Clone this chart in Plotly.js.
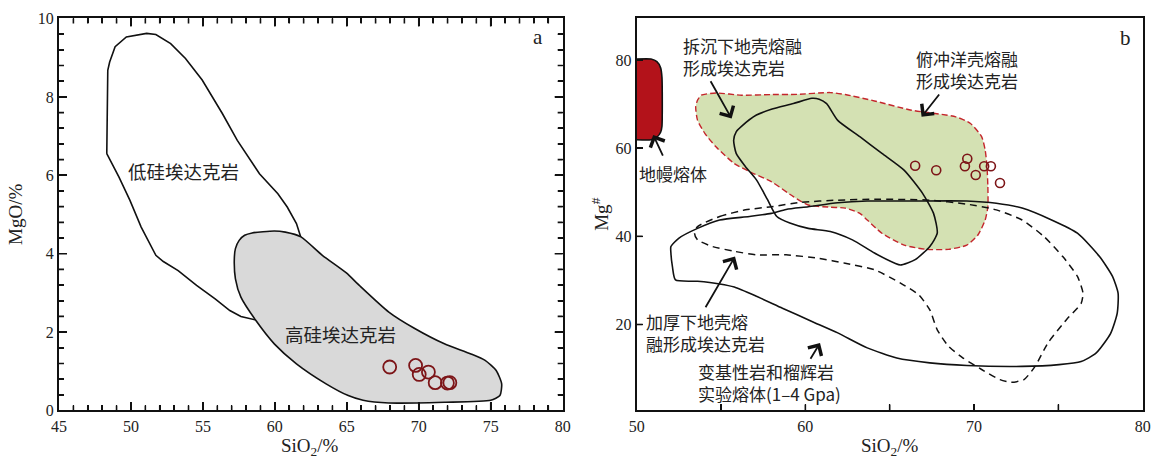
<!DOCTYPE html>
<html>
<head>
<meta charset="utf-8">
<script src="https://cdn.plot.ly/plotly-3.0.1.min.js"></script>
<style>html,body{margin:0;padding:0;background:#fff;}#chart{width:1158px;height:459px;}</style>
</head>
<body>
<div id="chart"></div>
<script>
// ---------- Panel a: SiO2 vs MgO ----------
var lowSiX = [48.32,48.39,48.52,48.9,49.68,51.09,51.73,52.76,53.79,54.95,56.36,57.39,58.93,60.21,60.86,61.5,61.81,61.2,60.2,58.67,57.64,56.87,55.85,54.56,53.28,52.25,51.73,50.71,49.93,49.16,48.32];
var lowSiY = [6.55,8.68,8.89,9.28,9.53,9.62,9.59,9.36,8.98,8.43,7.57,6.89,6.04,5.53,5.19,4.77,4.41,3.6,2.9,2.31,2.40,2.55,2.85,3.19,3.57,3.80,3.96,4.68,5.36,5.96,6.55];
var highSiX = [57.9,58.42,59.96,60.73,61.81,63.3,64.97,65.87,67.92,69.72,71.78,73.58,74.61,75.38,75.76,75.64,75.0,71.78,67.92,66.13,65.1,63.56,61.5,59.96,58.67,57.64,57.26,57.18,57.26,57.52,57.9];
var highSiY = [4.47,4.53,4.58,4.55,4.43,3.96,3.51,3.19,2.51,2.09,1.70,1.45,1.28,1.02,0.68,0.38,0.26,0.21,0.19,0.26,0.38,0.68,1.19,1.70,2.30,2.89,3.36,3.83,4.13,4.34,4.47];
var sampleSiO2a = [67.98,69.78,70.03,70.67,71.14,71.99,72.16];
var sampleMgO = [1.11,1.15,0.92,0.98,0.71,0.70,0.71];

// ---------- Panel b: SiO2 vs Mg# ----------
var mantleX = [50,50.85,51.2,51.42,51.5,51.5,51.42,51.2,50.85,50];
var mantleY = [80.2,80.2,79.6,78.2,76,65,63.6,62.5,61.9,61.9];
var oceanicX = [53.61,53.83,54.70,56.23,57.98,59.51,61.48,62.36,64.1,66.29,68.92,69.79,70.45,70.66,70.77,70.82,70.82,70.66,70.23,69.57,68.48,67.17,65.86,64.54,63.67,63.23,62.36,61.48,60.17,59.29,57.98,56.89,55.79,54.70,54.05,53.61,53.5,53.61];
var oceanicY = [70.88,72.0,72.5,72.0,72.15,72.2,72.6,72.15,70.7,68.6,67.1,65.6,62.6,59.6,55.8,51.3,46.7,43.7,40.3,38.0,37.05,37.05,38.0,40.7,43.7,45.2,46.4,46.6,47.1,49.0,52.4,54.3,56.5,60.3,63.3,66.3,69.4,70.88];
var delamX = [56.23,57.1,57.98,59.29,60.39,60.82,61.26,61.92,63.23,64.54,65.85,66.95,67.6,67.82,67.38,66.51,65.64,65.31,64.1,62.79,61.48,60.17,59.08,58.31,57.76,57.1,56.45,55.9,55.75,55.9,56.23];
var delamY = [65.0,67.5,68.8,70.1,71.3,71.1,70.1,66.3,62.6,58.8,55.0,49.75,45.2,40.7,37.7,34.7,33.5,33.9,36.2,39.2,41.1,41.8,43.0,44.5,48.3,52.8,55.8,58.8,61.8,63.7,65.0];
var thickX = [53.61,54.92,56.45,57.98,59.73,61.92,64.1,67.38,69.57,71.32,72.85,74.16,75.26,76.13,76.46,76.35,75.48,74.38,73.62,72.96,72.2,71.54,70.45,69.35,68.48,67.82,67.38,66.73,65.64,64.1,62.36,60.82,58.86,57.1,55.79,54.48,53.61,53.43,53.61];
var thickY = [42.2,44.5,46.0,46.7,47.7,48.2,48.4,48.2,47.3,46.0,43.7,39.9,35.4,30.9,27.1,24.8,21.1,15.8,10.5,7.5,6.9,7.5,9.8,12.4,15.1,18.8,23.3,26.7,29.4,32.4,33.9,35.0,35.8,35.8,36.6,37.7,39.2,40.7,42.2];
var expX = [52.03,52.51,53.61,54.92,56.67,57.98,58.86,60.17,61.92,63.67,66.29,69.57,71.32,72.85,74.6,76.13,77.44,78.21,78.54,78.49,78.1,77.23,76.35,75.04,72.85,69.57,67.38,65.42,63.67,61.92,60.39,58.64,57.1,55.79,54.92,53.61,52.3,52.12,52.03,52.03];
var expY = [37.7,39.6,41.8,43.7,44.5,45.2,46.1,46.7,47.6,48.0,48.0,48.0,47.5,46.4,43.7,40.7,35.4,30.9,27.1,22.6,18.0,13.5,11.6,10.9,10.5,10.7,11.3,12.4,14.7,18.1,20.7,23.7,26.4,28.5,29.2,29.8,30.1,33.1,36.2,37.7];
var sampleSiO2b = [66.51,67.76,69.46,69.6,70.1,70.6,71.0,71.54];
var sampleMgNo = [56.0,55.0,55.9,57.6,53.9,55.9,55.9,52.1];

var serif = 'Liberation Serif, Noto Sans CJK SC, serif';
var cjk = 'Noto Sans CJK SC, Liberation Serif, sans-serif';
var circleColor = '#7d1518';

var traces = [
  {x: lowSiX, y: lowSiY, xaxis:'x', yaxis:'y', mode:'lines', fill:'toself', fillcolor:'#ffffff',
   line:{color:'#111', width:1.6}, hoverinfo:'skip'},
  {x: highSiX, y: highSiY, xaxis:'x', yaxis:'y', mode:'lines', fill:'toself', fillcolor:'#d9d9d9',
   line:{color:'#111', width:1.6, shape:'spline', smoothing:0.6}, hoverinfo:'skip'},
  {x: sampleSiO2a, y: sampleMgO, xaxis:'x', yaxis:'y', mode:'markers',
   marker:{symbol:'circle-open', size:13, color:circleColor, line:{width:1.8, color:circleColor}}},

  {x: oceanicX, y: oceanicY, xaxis:'x2', yaxis:'y2', mode:'lines', fill:'toself', fillcolor:'#d4e1b3',
   line:{color:'#c4262c', width:1.4, dash:'6px,3px', shape:'spline', smoothing:0.6}, hoverinfo:'skip'},
  {x: mantleX, y: mantleY, xaxis:'x2', yaxis:'y2', mode:'lines', fill:'toself', fillcolor:'#b3121a',
   line:{color:'#111', width:1.6, shape:'spline', smoothing:0.5}, hoverinfo:'skip'},
  {x: delamX, y: delamY, xaxis:'x2', yaxis:'y2', mode:'lines',
   line:{color:'#111', width:1.6, shape:'spline', smoothing:0.6}, hoverinfo:'skip'},
  {x: thickX, y: thickY, xaxis:'x2', yaxis:'y2', mode:'lines',
   line:{color:'#111', width:1.5, dash:'7px,5px', shape:'spline', smoothing:0.6}, hoverinfo:'skip'},
  {x: expX, y: expY, xaxis:'x2', yaxis:'y2', mode:'lines',
   line:{color:'#111', width:1.6, shape:'spline', smoothing:0.6}, hoverinfo:'skip'},
  {x: sampleSiO2b, y: sampleMgNo, xaxis:'x2', yaxis:'y2', mode:'markers',
   marker:{symbol:'circle-open', size:9, color:circleColor, line:{width:1.6, color:circleColor}}}
];

var axisCommon = {
  showgrid:false, zeroline:false, showline:true, linecolor:'#111', linewidth:2,
  ticks:'inside', tickcolor:'#111', tickwidth:1.6,
  tickfont:{family:serif, size:16, color:'#222'}
};

function ann(x, y, text, xref, yref, opts) {
  var a = {x:x, y:y, xref:xref, yref:yref, text:text, showarrow:false,
    font:{family:cjk, size:17, color:'#222'}, align:'left', xanchor:'left', yanchor:'middle'};
  for (var k in opts) a[k] = opts[k];
  return a;
}
function arrow(tx, ty, hx, hy) {
  return {x:hx, y:hy, ax:tx, ay:ty, xref:'x2', yref:'y2', axref:'x2', ayref:'y2', text:'',
    width:1, height:1, borderpad:0, font:{size:1},
    showarrow:true, arrowhead:4, arrowsize:1.7, arrowwidth:1.8, arrowcolor:'#111'};
}
var titleFont = {family:serif, size:19, color:'#222'};

var layout = {
  width:1158, height:459, margin:{l:0, r:0, t:0, b:0},
  paper_bgcolor:'#fff', plot_bgcolor:'#fff', showlegend:false,
  xaxis: Object.assign({}, axisCommon, {domain:[0.05095,0.4859], range:[45,80], dtick:5,
     ticklen:8, mirror:'allticks', minor:{dtick:1, ticklen:5, ticks:'inside'}, anchor:'y'}),
  yaxis: Object.assign({}, axisCommon, {domain:[0.1057,0.9597], range:[0,10], dtick:2,
     ticklen:8, mirror:'allticks', minor:{dtick:0.4, ticklen:5, ticks:'inside'}, anchor:'x'}),
  xaxis2: Object.assign({}, axisCommon, {domain:[0.5498,0.98679], range:[50,80], dtick:10,
     ticklen:6, mirror:true, minor:{dtick:5, ticklen:6, ticks:'inside'}, anchor:'y2'}),
  yaxis2: Object.assign({}, axisCommon, {domain:[0.1057,0.9597], range:[0.5,89.4], tickvals:[20,40,60,80],
     ticklen:6, mirror:true, anchor:'x2'}),
  annotations: [
    ann(0.2678, (459-447)/459, 'SiO<sub>2</sub>/%', 'paper', 'paper', {font:titleFont, xanchor:'center'}),
    ann(0.7684, (459-447)/459, 'SiO<sub>2</sub>/%', 'paper', 'paper', {font:titleFont, xanchor:'center'}),
    ann(0.0135, 0.533, 'MgO/%', 'paper', 'paper', {font:titleFont, xanchor:'center', textangle:-90}),
    ann(0.5185, 0.533, 'Mg<sup>#</sup>', 'paper', 'paper', {font:titleFont, xanchor:'center', textangle:-90}),

    ann(78.29, 9.54, 'a', 'x', 'y', {font:{family:serif, size:21, color:'#222'}, xanchor:'center'}),
    ann(53.66, 6.11, '低硅埃达克岩', 'x', 'y', {font:{family:cjk, size:18.5, color:'#222'}, xanchor:'center'}),
    ann(64.58, 1.94, '高硅埃达克岩', 'x', 'y', {font:{family:cjk, size:18.5, color:'#222'}, xanchor:'center'}),

    ann(79.0, 84.9, 'b', 'x2', 'y2', {font:{family:serif, size:21, color:'#222'}, xanchor:'center'}),
    ann(52.6, 80.84, '拆沉下地壳熔融<br>形成埃达克岩', 'x2', 'y2', {}),
    ann(66.45, 77.9, '俯冲洋壳熔融<br>形成埃达克岩', 'x2', 'y2', {}),
    ann(50.02, 54.24, '地幔熔体', 'x2', 'y2', {}),
    ann(50.43, 18.25, '加厚下地壳熔<br>融形成埃达克岩', 'x2', 'y2', {}),
    ann(53.5, 6.94, '变基性岩和榴辉岩<br>实验熔体(1–4 Gpa)', 'x2', 'y2', {}),

    arrow(54.35, 75.4, 55.63, 66.7),
    arrow(67.98, 72.4, 66.89, 67.1),
    arrow(51.58, 58.05, 50.98, 63.0),
    arrow(54.05, 23.7, 55.83, 35.4),
    arrow(60.27, 12.0, 60.87, 15.8)
  ]
};

Plotly.newPlot('chart', traces, layout, {displayModeBar:false, staticPlot:true}).then(function(){
  try {
    var ns = 'http://www.w3.org/2000/svg';
    var svgs = document.querySelectorAll('#chart svg.main-svg');
    var topSvg = svgs[svgs.length - 1];
    var g = document.createElementNS(ns, 'g');
    g.setAttribute('class', 'tick-overlay');
    document.querySelectorAll('#chart path.xtick, #chart path.ytick, #chart path.x2tick, #chart path.y2tick').forEach(function(p){
      var c = document.createElementNS(ns, 'path');
      c.setAttribute('d', p.getAttribute('d'));
      var t = p.getAttribute('transform');
      if (t) c.setAttribute('transform', t);
      c.setAttribute('style', 'stroke:#111;stroke-width:1.6px;fill:none;');
      g.appendChild(c);
    });
    topSvg.appendChild(g);
  } catch (e) {}
});
</script>
</body>
</html>
